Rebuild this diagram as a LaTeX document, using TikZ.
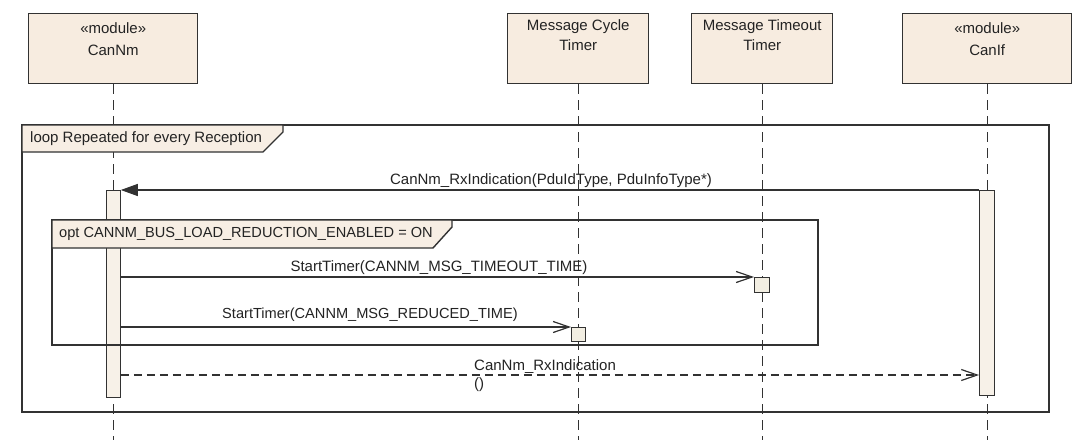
\documentclass[tikz,border=0pt]{standalone}
\usepackage{fontspec}
\setmainfont{Liberation Sans}
\usetikzlibrary{arrows.meta}
\definecolor{boxfill}{RGB}{247,236,224}
\definecolor{actfill}{RGB}{247,241,232}
\definecolor{tmrfill}{RGB}{242,238,226}
\definecolor{tabfill}{RGB}{247,238,228}
\definecolor{linecol}{RGB}{50,50,50}
\definecolor{txtcol}{RGB}{35,35,35}
\tikzset{
  headbox/.style={draw=linecol, line width=1.4pt, fill=boxfill, anchor=north west, inner sep=0pt},
  headtxt/.style={font=\fontsize{15}{17}\selectfont, text=txtcol, inner sep=0pt},
  lifeline/.style={draw=linecol, line width=1.3pt, dash pattern=on 10pt off 6pt},
  actbar/.style={draw=linecol, fill=actfill, line width=1.2pt, minimum width=14pt, inner sep=0pt, anchor=north},
  tmrbox/.style={draw=linecol, fill=tmrfill, line width=1.2pt, minimum width=15pt, minimum height=15pt, inner sep=0pt, anchor=north west},
  msg/.style={draw=linecol, line width=1.2pt},
  retmsg/.style={draw=linecol, line width=1.2pt, dash pattern=on 8pt off 5pt},
  synctip/.style={-{Triangle[length=17pt,width=12pt]}},
  opentip/.style={-{Straight Barb[length=16pt,width=11pt,line width=1.2pt]}},
  frameline/.style={draw=linecol, line width=1.4pt},
  tabshape/.style={draw=linecol, fill=tabfill, line width=1.4pt},
  lbl/.style={font=\fontsize{15}{17}\selectfont, text=txtcol, inner sep=0pt},
  capslbl/.style={font=\fontsize{14.6}{17}\selectfont, text=txtcol, inner sep=0pt}
}
\begin{document}
\begin{tikzpicture}[x=1pt,y=-1pt]
\useasboundingbox (0,0) rectangle (1080,440);
\fill[white] (0,0) rectangle (1080,440);

% lifeline heads
\node[headbox, minimum width=169pt, minimum height=70pt] (nm) at (28,13) {};
\node[headbox, minimum width=141pt, minimum height=70pt] (cyc) at (507,13) {};
\node[headbox, minimum width=141pt, minimum height=70pt] (tmo) at (691,13) {};
\node[headbox, minimum width=169pt, minimum height=70pt] (cif) at (902,13) {};

\node[headtxt] (nmst) at (nm.center |- 0,28) {«module»};
\node[headtxt] (nmnm) at (nm.center |- 0,50) {CanNm};
\node[headtxt] (cyc1) at (cyc.center |- 0,27) {Message Cycle};
\node[headtxt] (cyc2) at (cyc.center |- 0,45) {Timer};
\node[headtxt] (tmo1) at (tmo.center |- 0,27) {Message Timeout};
\node[headtxt] (tmo2) at (tmo.center |- 0,45) {Timer};
\node[headtxt] (cifst) at (cif.center |- 0,28) {«module»};
\node[headtxt] (cifnm) at (cif.center |- 0,50) {CanIf};

% lifeline ends
\coordinate (nmEnd) at (nm.south |- 0,440);
\coordinate (cycEnd) at (cyc.south |- 0,440);
\coordinate (tmoEnd) at (tmo.south |- 0,440);
\coordinate (cifEnd) at (cif.south |- 0,440);

\draw[lifeline] (nm.south) -- (nmEnd);
\draw[lifeline] (cyc.south) -- (cycEnd);
\draw[lifeline] (tmo.south) -- (tmoEnd);
\draw[lifeline] (cif.south) -- (cifEnd);

% activations
\node[actbar, minimum height=207pt] (nmAct) at (nm.south |- 0,190) {};
\node[actbar, minimum height=205pt, minimum width=15pt] (cifAct) at (cif.south |- 0,190) {};

% timer execution boxes
\node[tmrbox] (tmoBox) at (754,277) {};
\node[tmrbox, minimum width=14pt, minimum height=14pt] (cycBox) at (571,327) {};

% messages
\draw[msg, synctip] (cifAct.north west) -- (nmAct.north east);
\node[lbl] (rxlbl) at (551,181) {CanNm\_RxIndication(PduIdType, PduInfoType*)};

\draw[msg, opentip] (nmAct.east |- tmoBox.north west) -- (tmoBox.north west);
\node[lbl] (t1lbl) at (439,268) {StartTimer(CANNM\_MSG\_TIMEOUT\_TIME)};

\draw[msg, opentip] (nmAct.east |- cycBox.north west) -- (cycBox.north west);
\node[capslbl] (t2lbl) at (370,315) {StartTimer(CANNM\_MSG\_REDUCED\_TIME)};

\coordinate (retY) at (0,375);
\draw[retmsg, opentip] (nmAct.east |- retY) -- (cifAct.west |- retY);
\node[lbl, anchor=west] (retlbl) at (474,367) {CanNm\_RxIndication};
\node[lbl, anchor=west] (retpar) at (474,385) {()};

% combined fragments
\draw[frameline] (22,125) rectangle (1049,412);
\draw[tabshape] (22,125) -- (283,125) -- (283,132) -- (263,152) -- (22,152) -- cycle;
\node[lbl, anchor=west] (looplbl) at (30,138.5) {loop Repeated for every Reception};

\draw[frameline] (52,220) rectangle (818,345);
\draw[tabshape] (52,220) -- (452,220) -- (452,227) -- (433,248) -- (52,248) -- cycle;
\node[capslbl, anchor=west] (optlbl) at (59,234) {opt CANNM\_BUS\_LOAD\_REDUCTION\_ENABLED = ON};
\end{tikzpicture}
\end{document}
